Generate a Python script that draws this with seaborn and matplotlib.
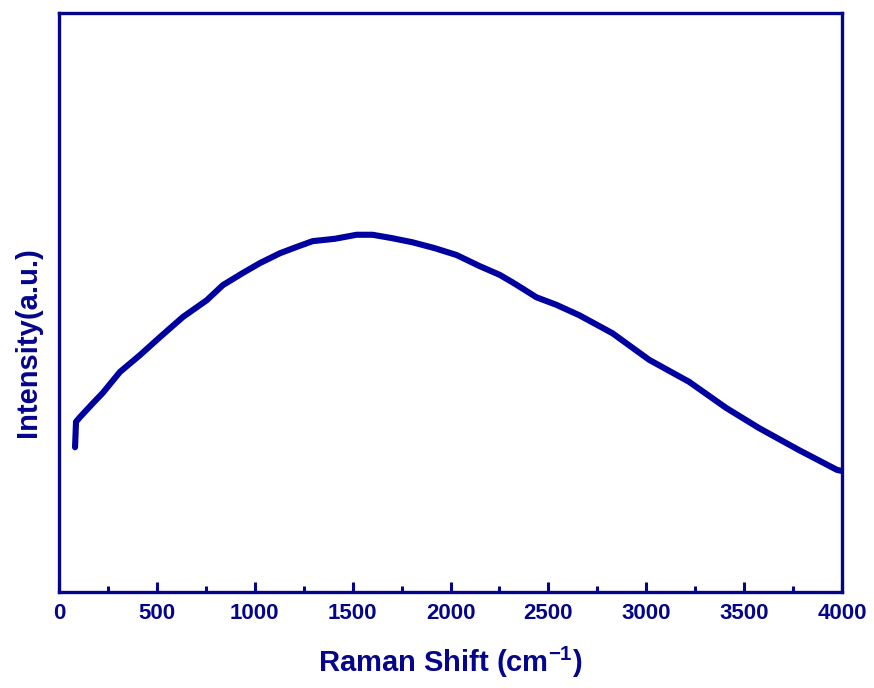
import matplotlib
matplotlib.use("Agg")
import matplotlib.pyplot as plt
import seaborn as sns
import pandas as pd
from matplotlib.ticker import MultipleLocator

sns.set_style("white")
plt.rcParams['font.family'] = ['Liberation Sans', 'DejaVu Sans']
plt.rcParams['font.weight'] = 'bold'
plt.rcParams['mathtext.fontset'] = 'custom'
plt.rcParams['mathtext.rm'] = 'Liberation Sans:bold'
plt.rcParams['mathtext.it'] = 'Liberation Sans:bold'
plt.rcParams['mathtext.bf'] = 'Liberation Sans:bold'
plt.rcParams['mathtext.default'] = 'rm'

# Data
raman_shift = [82, 87, 107, 173, 224, 311, 413, 515, 633, 755, 837, 939, 1026,
               1128, 1214, 1296, 1408, 1520, 1602, 1704, 1806, 1918, 2031, 2148,
               2250, 2316, 2378, 2439, 2541, 2658, 2827, 3015, 3219, 3408, 3577,
               3781, 3974, 4000]
intensity = [25.0, 29.4, 30.2, 32.6, 34.4, 38.0, 40.9, 44.0, 47.5, 50.4, 53.0,
             55.1, 56.8, 58.5, 59.6, 60.6, 61.0, 61.7, 61.7, 61.1, 60.4, 59.4,
             58.2, 56.3, 54.8, 53.5, 52.2, 50.9, 49.6, 47.8, 44.7, 40.1, 36.3,
             31.8, 28.3, 24.5, 21.1, 20.9]

df = pd.DataFrame({"shift": raman_shift, "intensity": intensity})

blue = "#0000a0"
navy = "#05058c"

fig = plt.figure(figsize=(8.74, 6.88), dpi=100)
ax = fig.add_axes([0.0675, 0.1395, 0.8959, 0.8416])

sns.lineplot(data=df, x="shift", y="intensity", ax=ax, color=blue,
             linewidth=4.4, estimator=None, sort=False)

ax.set_xlim(0, 4000)
ax.set_ylim(0, 100)
ax.xaxis.set_major_locator(MultipleLocator(500))
ax.xaxis.set_minor_locator(MultipleLocator(250))
ax.set_yticks([])

ax.tick_params(axis='x', which='major', direction='in', length=7.5, width=2.2,
               colors=navy, labelsize=16, pad=8, bottom=True, top=False)
ax.tick_params(axis='x', which='minor', direction='in', length=4, width=2.2,
               colors=navy, bottom=True, top=False)
for lbl in ax.get_xticklabels():
    lbl.set_fontweight('bold')
    lbl.set_color(navy)

for sp in ax.spines.values():
    sp.set_visible(True)
    sp.set_color(navy)
    sp.set_linewidth(2.4)

ax.set_xlabel(r"Raman Shift (cm$^{-1}$)", fontsize=21, fontweight='bold',
              color=navy, labelpad=15)
ax.set_ylabel("Intensity(a.u.)", fontsize=21, fontweight='bold',
              color=navy)
ax.yaxis.set_label_coords(-0.022, 0.432)

fig.savefig("out.png", dpi=100)
